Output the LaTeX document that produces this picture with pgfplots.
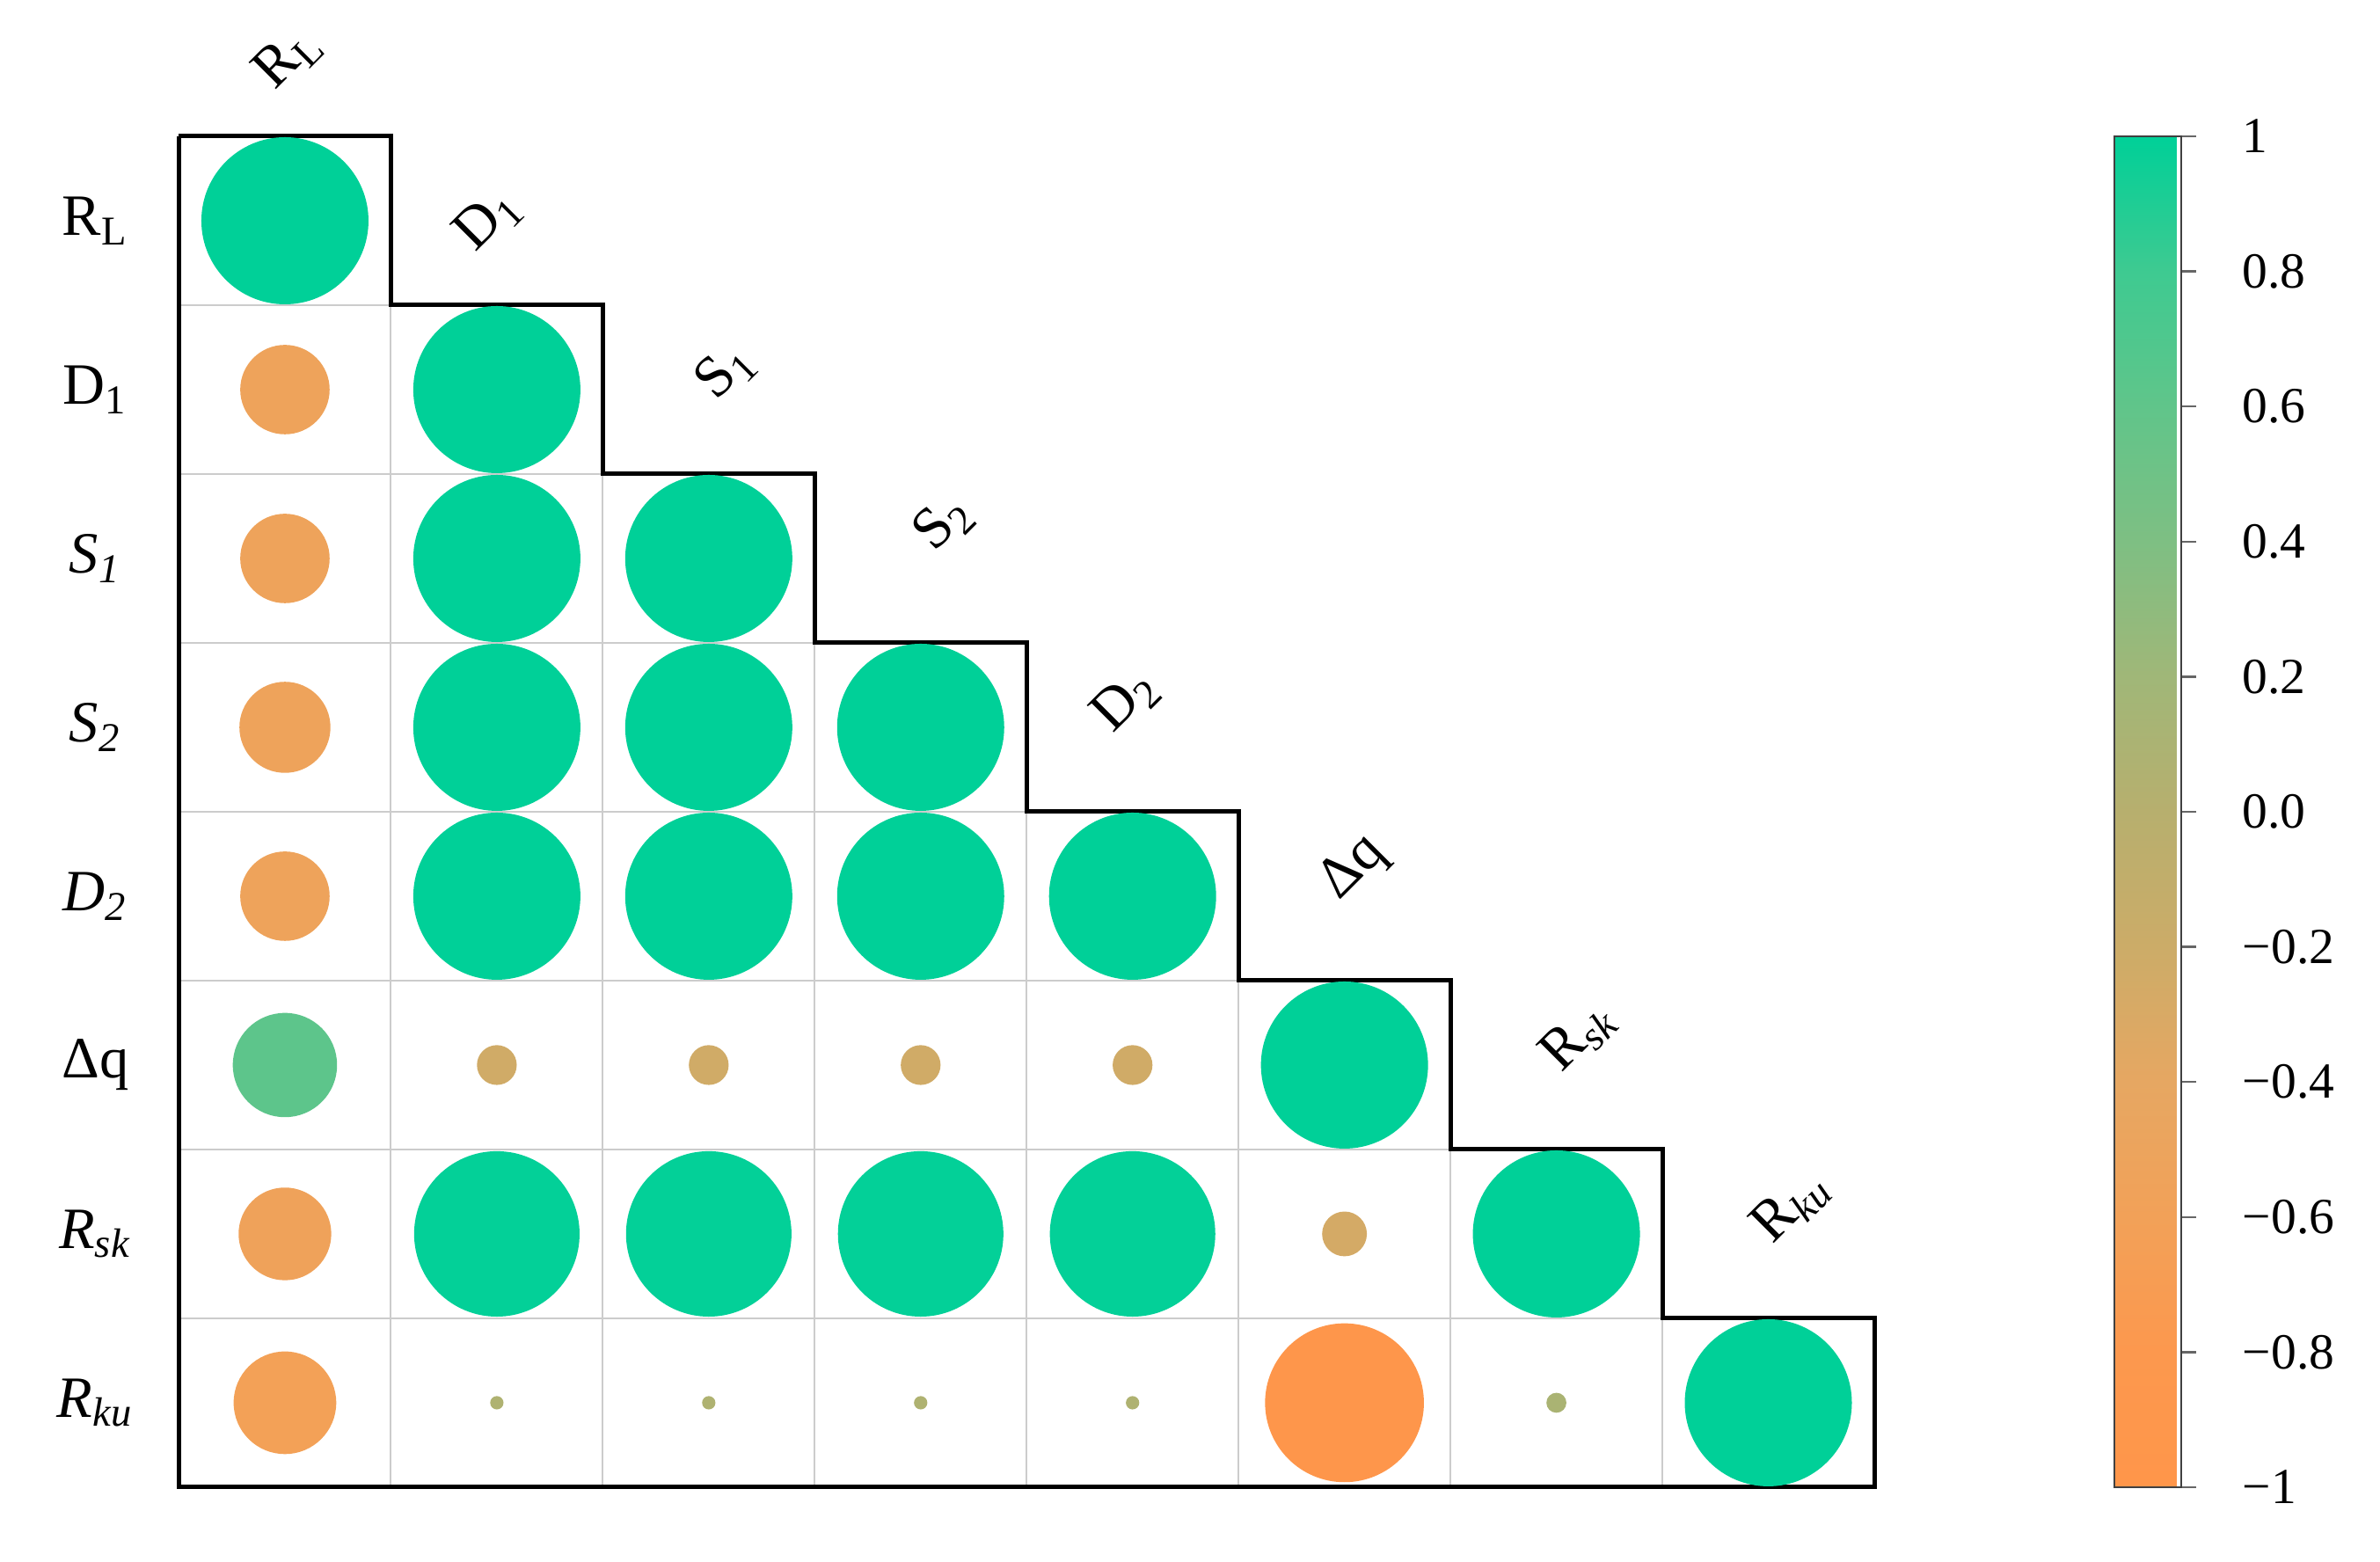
\documentclass[border=0pt]{standalone}
\usepackage{fontspec}
\setmainfont{Liberation Serif}
\usepackage{pgfplots}
\pgfplotsset{compat=1.18}

\newcommand{\sub}[1]{\textsubscript{#1}}
\newcommand{\lab}{\fontsize{13.3}{16}\selectfont}

\pgfplotsset{
  colormap={corr}{
    rgb255=(255,150,74) rgb255=(252,152,78) rgb255=(242,161,88)
    rgb255=(230,167,98) rgb255=(204,172,104) rgb255=(183,175,110)
    rgb255=(160,183,120) rgb255=(126,191,131) rgb255=(96,197,138)
    rgb255=(62,202,145) rgb255=(0,208,152)
  },
}

% lower triangle of the correlation matrix: column, row, r
\pgfplotstableread{
x y r
1 1 1
1 2 -0.53
2 2 1
1 3 -0.53
2 3 1
3 3 1
1 4 -0.54
2 4 1
3 4 1
4 4 1
1 5 -0.53
2 5 1
3 5 1
4 5 1
5 5 1
1 6 0.62
2 6 -0.23
3 6 -0.23
4 6 -0.23
5 6 -0.23
6 6 1
1 7 -0.55
2 7 0.99
3 7 0.99
4 7 0.99
5 7 0.99
6 7 -0.26
7 7 1
1 8 -0.61
2 8 0.07
3 8 0.07
4 8 0.07
5 8 0.07
6 8 -0.95
7 8 0.11
8 8 1
}\corrdata

\begin{document}
\begin{tikzpicture}
\begin{axis}[
  name=main,
  scale only axis,
  width=385.5pt, height=307.2pt,
  xmin=0.5, xmax=8.5, ymin=0.5, ymax=8.5,
  y dir=reverse,
  axis line style={draw=none},
  xtick=\empty, ytick=\empty,
  clip=false,
  colormap name=corr,
  point meta min=-1, point meta max=1,
  colorbar,
  colorbar style={
    at={(parent axis.north east)}, anchor=north west,
    xshift=46pt,
    scale only axis,
    width=15.2pt, height=307.2pt,
    axis line style={draw=black!75, line width=0.4pt},
    ytick pos=right,
    tick align=outside,
    major tick length=3.5pt,
    tick style={draw=black!60, line width=0.5pt},
    ytick={-1,-0.8,-0.6,-0.4,-0.2,0,0.2,0.4,0.6,0.8,1},
    yticklabels={−1,−0.8,−0.6,−0.4,−0.2,0.0,0.2,0.4,0.6,0.8,1},
    yticklabel style={font=\fontsize{11.5}{14}\selectfont, anchor=west, xshift=7pt},
  },
]
% light grid inside the triangle
\draw[black!20, line width=0.4pt] (0.5,1.5) -- (1.5,1.5);
\draw[black!20, line width=0.4pt] (0.5,2.5) -- (2.5,2.5);
\draw[black!20, line width=0.4pt] (0.5,3.5) -- (3.5,3.5);
\draw[black!20, line width=0.4pt] (0.5,4.5) -- (4.5,4.5);
\draw[black!20, line width=0.4pt] (0.5,5.5) -- (5.5,5.5);
\draw[black!20, line width=0.4pt] (0.5,6.5) -- (6.5,6.5);
\draw[black!20, line width=0.4pt] (0.5,7.5) -- (7.5,7.5);
\draw[black!20, line width=0.4pt] (1.5,1.5) -- (1.5,8.5);
\draw[black!20, line width=0.4pt] (2.5,2.5) -- (2.5,8.5);
\draw[black!20, line width=0.4pt] (3.5,3.5) -- (3.5,8.5);
\draw[black!20, line width=0.4pt] (4.5,4.5) -- (4.5,8.5);
\draw[black!20, line width=0.4pt] (5.5,5.5) -- (5.5,8.5);
\draw[black!20, line width=0.4pt] (6.5,6.5) -- (6.5,8.5);
\draw[black!20, line width=0.4pt] (7.5,7.5) -- (7.5,8.5);

\addplot[
  scatter, only marks, mark=*,
  point meta=explicit,
  scatter/use mapped color={draw=mapped color, fill=mapped color},
  visualization depends on={18.8*abs(\thisrow{r}) \as \msize},
  scatter/@pre marker code/.append style={/tikz/mark size=\msize},
] table[x=x, y=y, meta=r] {\corrdata};

% staircase frame
\addplot[black, line width=1pt, mark=none] coordinates {
  (0.5,0.5) (1.5,0.5) (1.5,1.5) (2.5,1.5) (2.5,2.5) (3.5,2.5) (3.5,3.5)
  (4.5,3.5) (4.5,4.5) (5.5,4.5) (5.5,5.5) (6.5,5.5) (6.5,6.5) (7.5,6.5)
  (7.5,7.5) (8.5,7.5) (8.5,8.5) (0.5,8.5) (0.5,0.5)
};

% row labels
\node[font=\lab] at (0.105,1) {R\sub{L}};
\node[font=\lab] at (0.105,2) {D\sub{1}};
\node[font=\lab] at (0.105,3) {\textit{S\sub{1}}};
\node[font=\lab] at (0.105,4) {\textit{S\sub{2}}};
\node[font=\lab] at (0.105,5) {\textit{D\sub{2}}};
\node[font=\lab] at (0.105,6) {Δq};
\node[font=\lab] at (0.105,7) {\textit{R\sub{sk}}};
\node[font=\lab] at (0.105,8) {\textit{R\sub{ku}}};

% column labels
\node[font=\lab, rotate=45, inner sep=0pt] at (1.016,0.033) {R\sub{L}};
\node[font=\lab, rotate=45, inner sep=0pt] at (1.961,0.994) {D\sub{1}};
\node[font=\lab, rotate=45, inner sep=0pt] at (3.079,1.893) {S\sub{1}};
\node[font=\lab, rotate=45, inner sep=0pt] at (4.110,2.792) {S\sub{2}};
\node[font=\lab, rotate=45, inner sep=0pt] at (4.970,3.844) {D\sub{2}};
\node[font=\lab, rotate=45, inner sep=0pt] at (6.044,4.833) {Δq};
\node[font=\lab, rotate=45, inner sep=0pt] at (7.105,5.830) {R\sub{\textit{sk}}};
\node[font=\lab, rotate=45, inner sep=0pt] at (8.107,6.837) {R\sub{\textit{ku}}};
\end{axis}
% page frame matching the reference proportions
\path (main.south west) ++(-40.7pt,-17pt) coordinate (bl);
\path (main.north west) ++(500.5pt,31pt) coordinate (tr);
\path (bl) rectangle (tr);
\end{tikzpicture}
\end{document}
